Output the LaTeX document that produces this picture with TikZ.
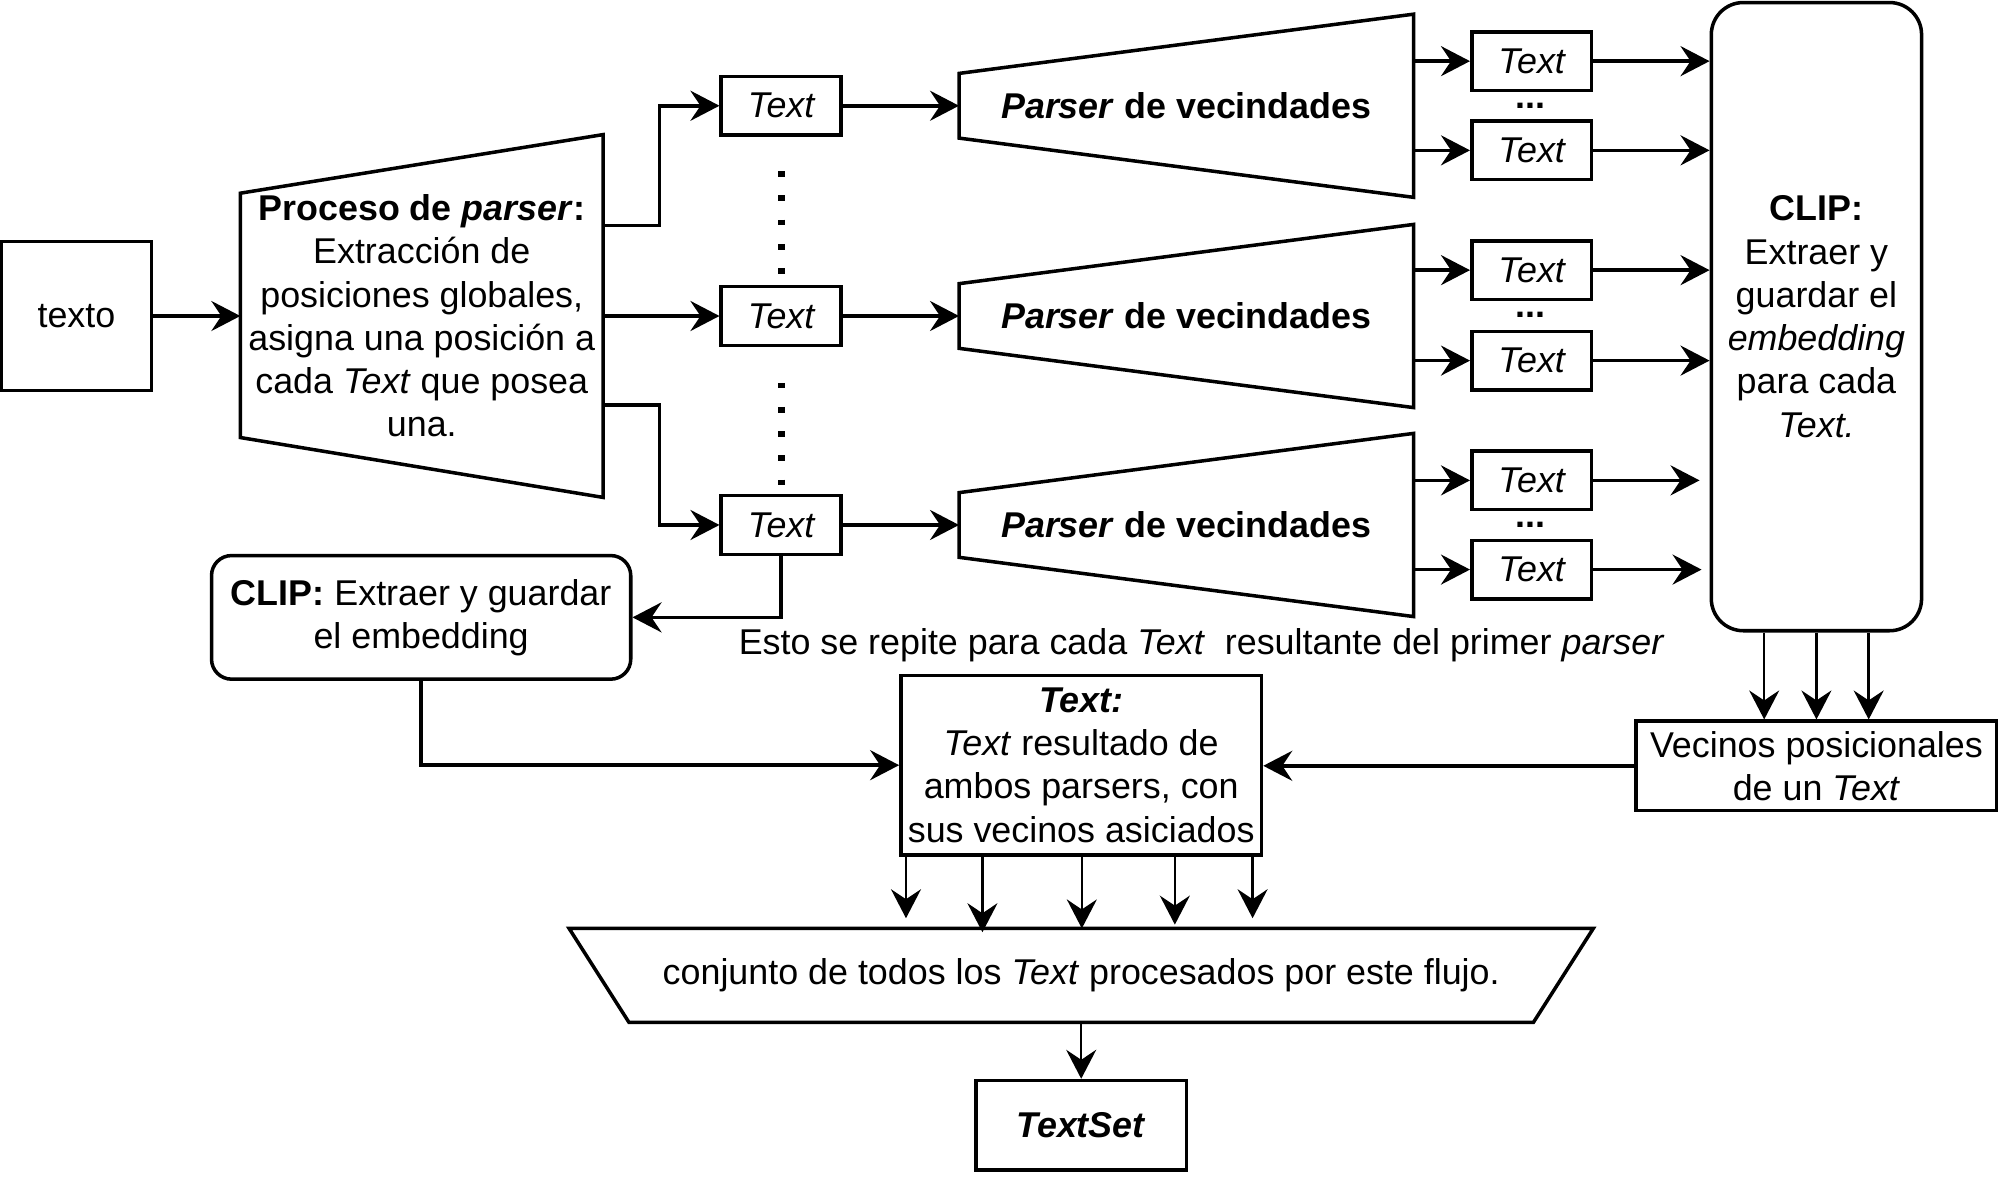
\documentclass[tikz,border=0pt]{standalone}
\usepackage{fontspec}
\setmainfont{Liberation Sans}
\usetikzlibrary{arrows.meta,calc}

\newcommand{\dpx}{0.12742mm}
\newcommand{\dfont}{\fontsize{10.2}{12.3}\selectfont}

\begin{document}
\begin{tikzpicture}[x=\dpx, y=-\dpx, line width=1pt, font=\dfont,
    arr/.style={-{Stealth[length=2.9mm, width=3mm, inset=1mm]}},
    tarr/.style={arr, line width=0.7pt},
    sz/.style 2 args={minimum width=#1*\dpx, minimum height=#2*\dpx, inner sep=0pt, align=center},
    main/.style 2 args={draw, sz={#1}{#2}},
    tx/.style={main={94}{46}, font=\dfont\itshape},
    dotline/.style={line width=0.7mm, dash pattern=on 0.57mm off 1.85mm}]
    \useasboundingbox (0,0) rectangle (1568,940);

    \node[main={118}{117}] (texto) at (60,248) {texto};
    \node[sz={282}{282}] (proc) at (331,248) {\textbf{Proceso de \textit{parser}:}\\Extracción de\\posiciones globales,\\asigna una posición a\\cada \textit{Text} que posea\\una.};

    \node[tx] (t1) at (613,83) {Text};
    \node[tx] (t2) at (613,248) {Text};
    \node[tx] (t3) at (613,412) {Text};

    \node[sz={354}{141}] (p1) at (931,83) {\textbf{\textit{Parser} de vecindades}};
    \node[sz={354}{141}] (p2) at (931,248) {\textbf{\textit{Parser} de vecindades}};
    \node[sz={354}{141}] (p3) at (931,412) {\textbf{\textit{Parser} de vecindades}};

    \node[tx] (q11) at (1202,48) {Text};
    \node[tx] (q12) at (1202,118) {Text};
    \node[tx] (q21) at (1202,212) {Text};
    \node[tx] (q22) at (1202,283) {Text};
    \node[tx] (q31) at (1202,377) {Text};
    \node[tx] (q32) at (1202,447) {Text};
    \node (d1) at (1201,83) {\textbf{...}};
    \node (d2) at (1201,247) {\textbf{...}};
    \node (d3) at (1201,412) {\textbf{...}};

    \node[main={165}{493}, rounded corners=3.2mm] (clipbig) at (1425.5,248.5) {\textbf{CLIP:}\\Extraer y\\guardar el\\\textit{embedding}\\para cada\\\textit{Text.}};
    \node[main={283}{70}] (vec) at (1425.5,601) {Vecinos posicionales\\de un \textit{Text}};
    \node[main={329}{97}, rounded corners=2mm] (clipsm) at (330.5,484.5) {\textbf{CLIP:} Extraer y guardar\\el embedding};
    \node (esto) at (943,506) {Esto se repite para cada \textit{Text}\ \ resultante del primer \textit{parser}};
    \node[main={283}{141}] (textn) at (848.5,600.5) {\textbf{\textit{Text:}}\\\textit{Text} resultado de\\ambos parsers, con\\sus vecinos asiciados};
    \node[sz={801}{71}] (conj) at (848.5,765.5) {conjunto de todos los \textit{Text} procesados por este flujo.};
    \node[main={165}{70}] (ts) at (848.5,883) {\textbf{\textit{TextSet}}};

% trapezoids
\draw (proc.north east) -- (proc.south east) -- ($(proc.south west)+(0,-47)$) -- ($(proc.north west)+(0,46)$) -- cycle;
\draw (p1.north east) -- (p1.south east) -- ($(p1.south west)+(0,-46.5)$) -- ($(p1.north west)+(0,46.5)$) -- cycle;
\draw (p2.north east) -- (p2.south east) -- ($(p2.south west)+(0,-46.5)$) -- ($(p2.north west)+(0,46.5)$) -- cycle;
\draw (p3.north east) -- (p3.south east) -- ($(p3.south west)+(0,-46.5)$) -- ($(p3.north west)+(0,46.5)$) -- cycle;
\draw (conj.north west) -- (conj.north east) -- ($(conj.south east)+(-47,0)$) -- ($(conj.south west)+(47,0)$) -- cycle;

\draw[arr] (texto) -- (proc);
\draw[arr] ($(proc.east)+(0,-71)$) -| ($(t1.west)+(-47,0)$) -- (t1);
\draw[arr] (proc) -- (t2);
\draw[arr] ($(proc.east)+(0,70)$) -| ($(t3.west)+(-47,0)$) -- (t3);
\draw[dotline, shorten <=3.44mm, shorten >=0.9mm] (t1) -- (t2);
\draw[dotline, shorten <=3.57mm, shorten >=0.8mm] (t2) -- (t3);

\draw[arr] (t1) -- (p1);
\draw[arr] (t2) -- (p2);
\draw[arr] (t3) -- (p3);

\draw[arr] (q11 -| p1.east) -- (q11);
\draw[arr] (q12 -| p1.east) -- (q12);
\draw[arr] (q21 -| p2.east) -- (q21);
\draw[arr] (q22 -| p2.east) -- (q22);
\draw[arr] (q31 -| p3.east) -- (q31);
\draw[arr] (q32 -| p3.east) -- (q32);

\draw[arr] (q11) -- (q11 -| clipbig.west);
\draw[arr] (q12) -- (q12 -| clipbig.west);
\draw[arr] (q21) -- (q21 -| clipbig.west);
\draw[arr] (q22) -- (q22 -| clipbig.west);
\draw[arr, shorten >=1mm] (q31) -- (q31 -| clipbig.west);
\draw[arr, shorten >=0.8mm] (q32) -- (q32 -| clipbig.west);

\draw[arr] (t3) |- (clipsm);
\draw[arr] (clipsm) |- (textn);
\draw[arr] (vec.west) -- (vec.west -| textn.east);

\foreach \dx in {-41,0,41}
    \draw[tarr] ($(clipbig.south)+(\dx,0)$) -- ($(vec.north)+(\dx,0)$);
\foreach \x/\s in {711/1.02mm, 771/-0.38mm, 849/0mm, 922/0.38mm, 983/1.02mm}
    \draw[tarr, shorten >=\s] (\x,0 |- textn.south) -- (\x,0 |- conj.north);
\draw[tarr] (conj) -- (ts);

\end{tikzpicture}
\end{document}
